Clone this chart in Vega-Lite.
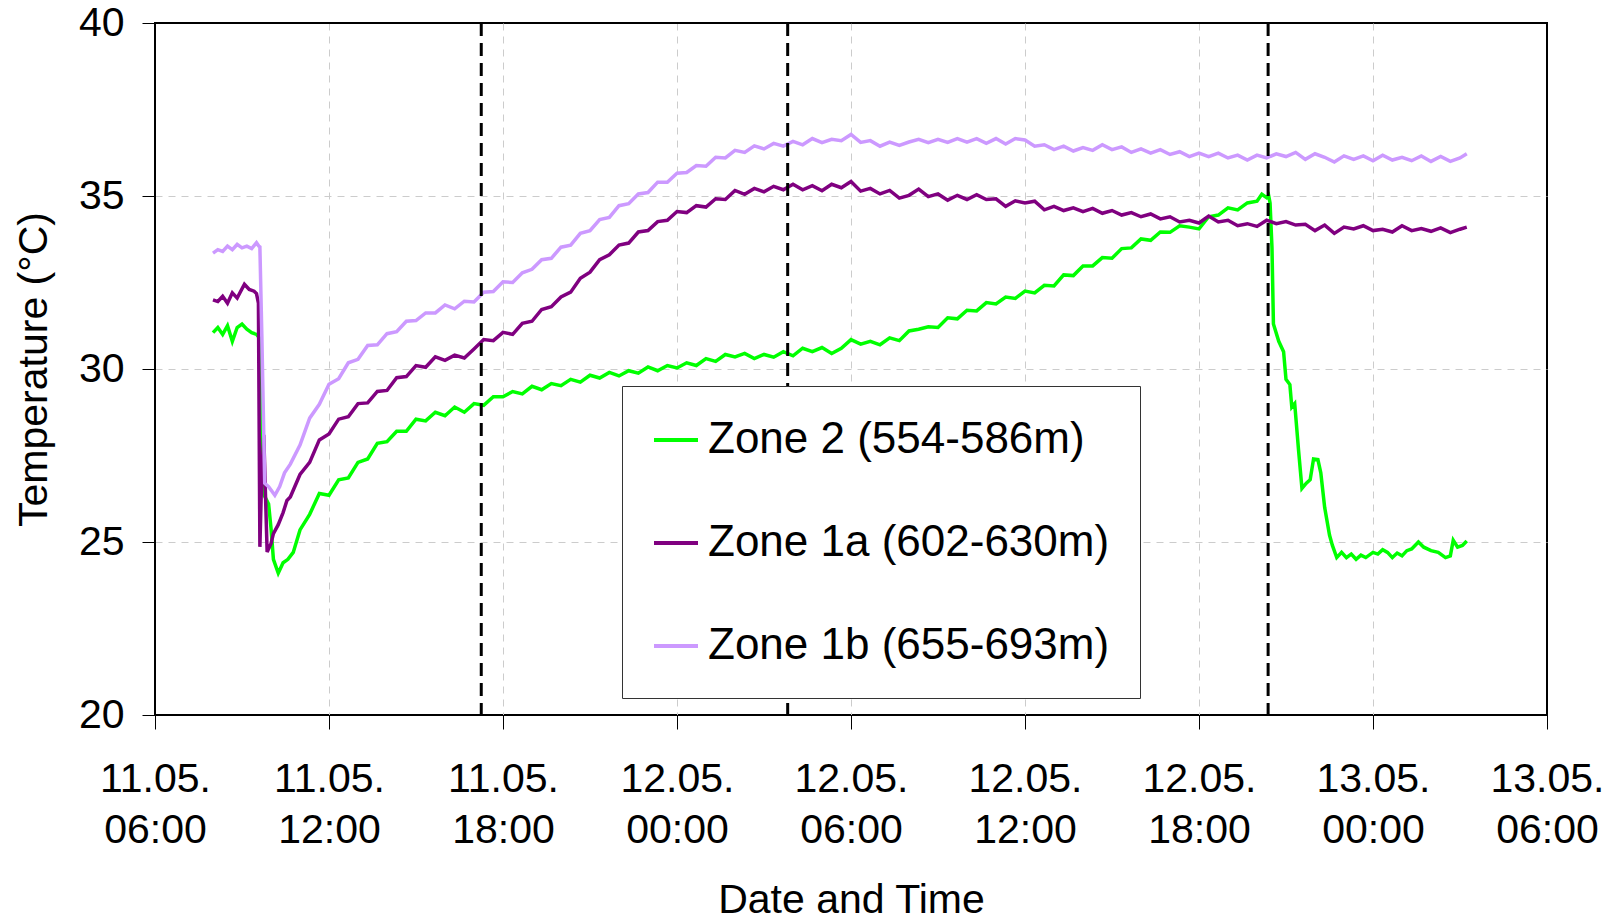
{
  "$schema": "https://vega.github.io/schema/vega-lite/v6.json",
  "width": 1392,
  "height": 692,
  "autosize": {"type": "none"},
  "padding": {"left": 155, "top": 23, "right": 73, "bottom": 203},
  "background": "white",
  "config": {
    "view": {"stroke": "black", "strokeWidth": 2},
    "axis": {"labelFont": "Liberation Sans", "titleFont": "Liberation Sans", "labelColor": "black", "titleColor": "black", "titleFontWeight": "normal"},
    "legend": {"labelFont": "Liberation Sans"}
  },
  "data": {"values": [
    {"z":"A","t":"2011-05-11T08:00Z","T":31.05},{"z":"A","t":"2011-05-11T08:10Z","T":31.2},{"z":"A","t":"2011-05-11T08:20Z","T":31.0},{"z":"A","t":"2011-05-11T08:30Z","T":31.25},{"z":"A","t":"2011-05-11T08:40Z","T":30.8},{"z":"A","t":"2011-05-11T08:50Z","T":31.2},{"z":"A","t":"2011-05-11T09:00Z","T":31.3},{"z":"A","t":"2011-05-11T09:10Z","T":31.15},{"z":"A","t":"2011-05-11T09:20Z","T":31.05},{"z":"A","t":"2011-05-11T09:30Z","T":31.0},{"z":"A","t":"2011-05-11T09:36Z","T":30.9},{"z":"A","t":"2011-05-11T09:44Z","T":26.4},{"z":"A","t":"2011-05-11T09:55Z","T":26.1},{"z":"A","t":"2011-05-11T10:00Z","T":25.4},{"z":"A","t":"2011-05-11T10:05Z","T":24.5},{"z":"A","t":"2011-05-11T10:15Z","T":24.1},{"z":"A","t":"2011-05-11T10:25Z","T":24.4},{"z":"A","t":"2011-05-11T10:35Z","T":24.5},{"z":"A","t":"2011-05-11T10:46Z","T":24.7},
    {"z":"A","t":"2011-05-11T11:00Z","T":25.35},{"z":"A","t":"2011-05-11T11:20Z","T":25.8},{"z":"A","t":"2011-05-11T11:40Z","T":26.4},{"z":"A","t":"2011-05-11T12:00Z","T":26.35},{"z":"A","t":"2011-05-11T12:20Z","T":26.8},{"z":"A","t":"2011-05-11T12:40Z","T":26.85},{"z":"A","t":"2011-05-11T13:00Z","T":27.3},{"z":"A","t":"2011-05-11T13:20Z","T":27.4},{"z":"A","t":"2011-05-11T13:40Z","T":27.85},{"z":"A","t":"2011-05-11T14:00Z","T":27.9},{"z":"A","t":"2011-05-11T14:20Z","T":28.2},{"z":"A","t":"2011-05-11T14:40Z","T":28.2},{"z":"A","t":"2011-05-11T15:00Z","T":28.55},{"z":"A","t":"2011-05-11T15:20Z","T":28.5},{"z":"A","t":"2011-05-11T15:40Z","T":28.75},{"z":"A","t":"2011-05-11T16:00Z","T":28.65},{"z":"A","t":"2011-05-11T16:20Z","T":28.9},{"z":"A","t":"2011-05-11T16:40Z","T":28.75},{"z":"A","t":"2011-05-11T17:00Z","T":29.0},{"z":"A","t":"2011-05-11T17:20Z","T":28.95},{"z":"A","t":"2011-05-11T17:40Z","T":29.2},{"z":"A","t":"2011-05-11T18:00Z","T":29.2},{"z":"A","t":"2011-05-11T18:20Z","T":29.35},{"z":"A","t":"2011-05-11T18:40Z","T":29.28},{"z":"A","t":"2011-05-11T19:00Z","T":29.5},{"z":"A","t":"2011-05-11T19:20Z","T":29.4},{"z":"A","t":"2011-05-11T19:40Z","T":29.58},{"z":"A","t":"2011-05-11T20:00Z","T":29.52},{"z":"A","t":"2011-05-11T20:20Z","T":29.7},{"z":"A","t":"2011-05-11T20:40Z","T":29.62},{"z":"A","t":"2011-05-11T21:00Z","T":29.82},{"z":"A","t":"2011-05-11T21:20Z","T":29.74},{"z":"A","t":"2011-05-11T21:40Z","T":29.9},{"z":"A","t":"2011-05-11T22:00Z","T":29.8},{"z":"A","t":"2011-05-11T22:20Z","T":29.95},{"z":"A","t":"2011-05-11T22:40Z","T":29.88},{"z":"A","t":"2011-05-11T23:00Z","T":30.06},{"z":"A","t":"2011-05-11T23:20Z","T":29.95},{"z":"A","t":"2011-05-11T23:40Z","T":30.1},
    {"z":"A","t":"2011-05-12T00:00Z","T":30.03},{"z":"A","t":"2011-05-12T00:20Z","T":30.18},{"z":"A","t":"2011-05-12T00:40Z","T":30.1},{"z":"A","t":"2011-05-12T01:00Z","T":30.3},{"z":"A","t":"2011-05-12T01:20Z","T":30.22},{"z":"A","t":"2011-05-12T01:40Z","T":30.42},{"z":"A","t":"2011-05-12T02:00Z","T":30.35},{"z":"A","t":"2011-05-12T02:20Z","T":30.45},{"z":"A","t":"2011-05-12T02:40Z","T":30.3},{"z":"A","t":"2011-05-12T03:00Z","T":30.42},{"z":"A","t":"2011-05-12T03:20Z","T":30.34},{"z":"A","t":"2011-05-12T03:40Z","T":30.5},{"z":"A","t":"2011-05-12T04:00Z","T":30.38},{"z":"A","t":"2011-05-12T04:20Z","T":30.6},{"z":"A","t":"2011-05-12T04:40Z","T":30.5},{"z":"A","t":"2011-05-12T05:00Z","T":30.62},{"z":"A","t":"2011-05-12T05:20Z","T":30.45},{"z":"A","t":"2011-05-12T05:40Z","T":30.6},{"z":"A","t":"2011-05-12T06:00Z","T":30.85},{"z":"A","t":"2011-05-12T06:20Z","T":30.72},{"z":"A","t":"2011-05-12T06:40Z","T":30.8},{"z":"A","t":"2011-05-12T07:00Z","T":30.7},{"z":"A","t":"2011-05-12T07:20Z","T":30.9},{"z":"A","t":"2011-05-12T07:40Z","T":30.82},{"z":"A","t":"2011-05-12T08:00Z","T":31.1},{"z":"A","t":"2011-05-12T08:20Z","T":31.15},{"z":"A","t":"2011-05-12T08:40Z","T":31.22},{"z":"A","t":"2011-05-12T09:00Z","T":31.2},{"z":"A","t":"2011-05-12T09:20Z","T":31.48},{"z":"A","t":"2011-05-12T09:40Z","T":31.45},{"z":"A","t":"2011-05-12T10:00Z","T":31.7},{"z":"A","t":"2011-05-12T10:20Z","T":31.68},{"z":"A","t":"2011-05-12T10:40Z","T":31.92},{"z":"A","t":"2011-05-12T11:00Z","T":31.88},{"z":"A","t":"2011-05-12T11:20Z","T":32.08},{"z":"A","t":"2011-05-12T11:40Z","T":32.04},{"z":"A","t":"2011-05-12T12:00Z","T":32.25},{"z":"A","t":"2011-05-12T12:20Z","T":32.2},{"z":"A","t":"2011-05-12T12:40Z","T":32.42},{"z":"A","t":"2011-05-12T13:00Z","T":32.4},{"z":"A","t":"2011-05-12T13:20Z","T":32.72},{"z":"A","t":"2011-05-12T13:40Z","T":32.7},{"z":"A","t":"2011-05-12T14:00Z","T":32.98},{"z":"A","t":"2011-05-12T14:20Z","T":32.98},{"z":"A","t":"2011-05-12T14:40Z","T":33.22},{"z":"A","t":"2011-05-12T15:00Z","T":33.2},{"z":"A","t":"2011-05-12T15:20Z","T":33.48},{"z":"A","t":"2011-05-12T15:40Z","T":33.5},{"z":"A","t":"2011-05-12T16:00Z","T":33.76},{"z":"A","t":"2011-05-12T16:20Z","T":33.72},{"z":"A","t":"2011-05-12T16:40Z","T":33.96},{"z":"A","t":"2011-05-12T17:00Z","T":33.95},{"z":"A","t":"2011-05-12T17:20Z","T":34.14},{"z":"A","t":"2011-05-12T17:40Z","T":34.1},{"z":"A","t":"2011-05-12T18:00Z","T":34.05},{"z":"A","t":"2011-05-12T18:20Z","T":34.4},{"z":"A","t":"2011-05-12T18:40Z","T":34.45},{"z":"A","t":"2011-05-12T19:00Z","T":34.66},{"z":"A","t":"2011-05-12T19:20Z","T":34.6},{"z":"A","t":"2011-05-12T19:40Z","T":34.8},{"z":"A","t":"2011-05-12T20:00Z","T":34.85},{"z":"A","t":"2011-05-12T20:10Z","T":35.05},{"z":"A","t":"2011-05-12T20:20Z","T":34.95},{"z":"A","t":"2011-05-12T20:24Z","T":35.02},{"z":"A","t":"2011-05-12T20:27Z","T":34.8},{"z":"A","t":"2011-05-12T20:31Z","T":33.5},{"z":"A","t":"2011-05-12T20:34Z","T":31.3},{"z":"A","t":"2011-05-12T20:45Z","T":30.8},{"z":"A","t":"2011-05-12T20:55Z","T":30.5},{"z":"A","t":"2011-05-12T21:00Z","T":29.7},{"z":"A","t":"2011-05-12T21:08Z","T":29.55},{"z":"A","t":"2011-05-12T21:12Z","T":28.9},{"z":"A","t":"2011-05-12T21:18Z","T":29.0},{"z":"A","t":"2011-05-12T21:26Z","T":27.65},{"z":"A","t":"2011-05-12T21:33Z","T":26.55},{"z":"A","t":"2011-05-12T21:42Z","T":26.7},{"z":"A","t":"2011-05-12T21:50Z","T":26.8},{"z":"A","t":"2011-05-12T21:57Z","T":27.4},{"z":"A","t":"2011-05-12T22:06Z","T":27.38},{"z":"A","t":"2011-05-12T22:12Z","T":27.0},{"z":"A","t":"2011-05-12T22:20Z","T":26.0},{"z":"A","t":"2011-05-12T22:30Z","T":25.2},{"z":"A","t":"2011-05-12T22:36Z","T":24.9},{"z":"A","t":"2011-05-12T22:45Z","T":24.55},{"z":"A","t":"2011-05-12T22:55Z","T":24.7},{"z":"A","t":"2011-05-12T23:05Z","T":24.55},{"z":"A","t":"2011-05-12T23:15Z","T":24.65},{"z":"A","t":"2011-05-12T23:25Z","T":24.5},{"z":"A","t":"2011-05-12T23:35Z","T":24.62},{"z":"A","t":"2011-05-12T23:45Z","T":24.55},
    {"z":"A","t":"2011-05-13T00:00Z","T":24.7},{"z":"A","t":"2011-05-13T00:10Z","T":24.65},{"z":"A","t":"2011-05-13T00:20Z","T":24.78},{"z":"A","t":"2011-05-13T00:30Z","T":24.7},{"z":"A","t":"2011-05-13T00:40Z","T":24.55},{"z":"A","t":"2011-05-13T00:50Z","T":24.68},{"z":"A","t":"2011-05-13T01:00Z","T":24.6},{"z":"A","t":"2011-05-13T01:10Z","T":24.75},{"z":"A","t":"2011-05-13T01:20Z","T":24.8},{"z":"A","t":"2011-05-13T01:34Z","T":25.0},{"z":"A","t":"2011-05-13T01:45Z","T":24.85},{"z":"A","t":"2011-05-13T02:00Z","T":24.75},{"z":"A","t":"2011-05-13T02:15Z","T":24.7},{"z":"A","t":"2011-05-13T02:30Z","T":24.55},{"z":"A","t":"2011-05-13T02:40Z","T":24.6},{"z":"A","t":"2011-05-13T02:46Z","T":25.05},{"z":"A","t":"2011-05-13T02:55Z","T":24.85},{"z":"A","t":"2011-05-13T03:05Z","T":24.9},{"z":"A","t":"2011-05-13T03:14Z","T":25.03},
    {"z":"B","t":"2011-05-11T08:00Z","T":32.0},{"z":"B","t":"2011-05-11T08:10Z","T":31.95},{"z":"B","t":"2011-05-11T08:20Z","T":32.1},{"z":"B","t":"2011-05-11T08:30Z","T":31.9},{"z":"B","t":"2011-05-11T08:40Z","T":32.2},{"z":"B","t":"2011-05-11T08:50Z","T":32.05},{"z":"B","t":"2011-05-11T09:05Z","T":32.45},{"z":"B","t":"2011-05-11T09:15Z","T":32.3},{"z":"B","t":"2011-05-11T09:25Z","T":32.25},{"z":"B","t":"2011-05-11T09:30Z","T":32.18},{"z":"B","t":"2011-05-11T09:34Z","T":31.9},{"z":"B","t":"2011-05-11T09:37Z","T":24.86},{"z":"B","t":"2011-05-11T09:40Z","T":26.5},{"z":"B","t":"2011-05-11T09:45Z","T":28.1},{"z":"B","t":"2011-05-11T09:52Z","T":24.71},{"z":"B","t":"2011-05-11T10:00Z","T":24.95},{"z":"B","t":"2011-05-11T10:05Z","T":25.24},{"z":"B","t":"2011-05-11T10:15Z","T":25.5},{"z":"B","t":"2011-05-11T10:25Z","T":25.85},{"z":"B","t":"2011-05-11T10:33Z","T":26.2},
    {"z":"B","t":"2011-05-11T10:40Z","T":26.3},{"z":"B","t":"2011-05-11T11:00Z","T":26.95},{"z":"B","t":"2011-05-11T11:20Z","T":27.3},{"z":"B","t":"2011-05-11T11:40Z","T":27.95},{"z":"B","t":"2011-05-11T12:00Z","T":28.12},{"z":"B","t":"2011-05-11T12:20Z","T":28.55},{"z":"B","t":"2011-05-11T12:40Z","T":28.62},{"z":"B","t":"2011-05-11T13:00Z","T":29.0},{"z":"B","t":"2011-05-11T13:20Z","T":29.02},{"z":"B","t":"2011-05-11T13:40Z","T":29.35},{"z":"B","t":"2011-05-11T14:00Z","T":29.38},{"z":"B","t":"2011-05-11T14:20Z","T":29.75},{"z":"B","t":"2011-05-11T14:40Z","T":29.78},{"z":"B","t":"2011-05-11T15:00Z","T":30.1},{"z":"B","t":"2011-05-11T15:20Z","T":30.05},{"z":"B","t":"2011-05-11T15:40Z","T":30.35},{"z":"B","t":"2011-05-11T16:00Z","T":30.25},{"z":"B","t":"2011-05-11T16:20Z","T":30.4},{"z":"B","t":"2011-05-11T16:40Z","T":30.32},{"z":"B","t":"2011-05-11T17:00Z","T":30.58},{"z":"B","t":"2011-05-11T17:20Z","T":30.85},{"z":"B","t":"2011-05-11T17:40Z","T":30.82},{"z":"B","t":"2011-05-11T18:00Z","T":31.06},{"z":"B","t":"2011-05-11T18:20Z","T":31.0},{"z":"B","t":"2011-05-11T18:40Z","T":31.32},{"z":"B","t":"2011-05-11T19:00Z","T":31.38},{"z":"B","t":"2011-05-11T19:20Z","T":31.72},{"z":"B","t":"2011-05-11T19:40Z","T":31.8},{"z":"B","t":"2011-05-11T20:00Z","T":32.08},{"z":"B","t":"2011-05-11T20:20Z","T":32.22},{"z":"B","t":"2011-05-11T20:40Z","T":32.62},{"z":"B","t":"2011-05-11T21:00Z","T":32.8},{"z":"B","t":"2011-05-11T21:20Z","T":33.16},{"z":"B","t":"2011-05-11T21:40Z","T":33.3},{"z":"B","t":"2011-05-11T22:00Z","T":33.58},{"z":"B","t":"2011-05-11T22:20Z","T":33.64},{"z":"B","t":"2011-05-11T22:40Z","T":33.96},{"z":"B","t":"2011-05-11T23:00Z","T":34.0},{"z":"B","t":"2011-05-11T23:20Z","T":34.26},{"z":"B","t":"2011-05-11T23:40Z","T":34.3},
    {"z":"B","t":"2011-05-12T00:00Z","T":34.55},{"z":"B","t":"2011-05-12T00:20Z","T":34.52},{"z":"B","t":"2011-05-12T00:40Z","T":34.72},{"z":"B","t":"2011-05-12T01:00Z","T":34.68},{"z":"B","t":"2011-05-12T01:20Z","T":34.92},{"z":"B","t":"2011-05-12T01:40Z","T":34.9},{"z":"B","t":"2011-05-12T02:00Z","T":35.16},{"z":"B","t":"2011-05-12T02:20Z","T":35.05},{"z":"B","t":"2011-05-12T02:40Z","T":35.22},{"z":"B","t":"2011-05-12T03:00Z","T":35.12},{"z":"B","t":"2011-05-12T03:20Z","T":35.28},{"z":"B","t":"2011-05-12T03:40Z","T":35.18},{"z":"B","t":"2011-05-12T04:00Z","T":35.34},{"z":"B","t":"2011-05-12T04:20Z","T":35.18},{"z":"B","t":"2011-05-12T04:40Z","T":35.3},{"z":"B","t":"2011-05-12T05:00Z","T":35.15},{"z":"B","t":"2011-05-12T05:20Z","T":35.34},{"z":"B","t":"2011-05-12T05:40Z","T":35.24},{"z":"B","t":"2011-05-12T06:00Z","T":35.42},{"z":"B","t":"2011-05-12T06:20Z","T":35.14},{"z":"B","t":"2011-05-12T06:40Z","T":35.22},{"z":"B","t":"2011-05-12T07:00Z","T":35.06},{"z":"B","t":"2011-05-12T07:20Z","T":35.16},{"z":"B","t":"2011-05-12T07:40Z","T":34.94},{"z":"B","t":"2011-05-12T08:00Z","T":35.02},{"z":"B","t":"2011-05-12T08:20Z","T":35.2},{"z":"B","t":"2011-05-12T08:40Z","T":34.98},{"z":"B","t":"2011-05-12T09:00Z","T":35.06},{"z":"B","t":"2011-05-12T09:20Z","T":34.88},{"z":"B","t":"2011-05-12T09:40Z","T":35.02},{"z":"B","t":"2011-05-12T10:00Z","T":34.9},{"z":"B","t":"2011-05-12T10:20Z","T":35.04},{"z":"B","t":"2011-05-12T10:40Z","T":34.9},{"z":"B","t":"2011-05-12T11:00Z","T":34.92},{"z":"B","t":"2011-05-12T11:20Z","T":34.7},{"z":"B","t":"2011-05-12T11:40Z","T":34.86},{"z":"B","t":"2011-05-12T12:00Z","T":34.8},{"z":"B","t":"2011-05-12T12:20Z","T":34.85},{"z":"B","t":"2011-05-12T12:40Z","T":34.6},{"z":"B","t":"2011-05-12T13:00Z","T":34.7},{"z":"B","t":"2011-05-12T13:20Z","T":34.58},{"z":"B","t":"2011-05-12T13:40Z","T":34.66},{"z":"B","t":"2011-05-12T14:00Z","T":34.55},{"z":"B","t":"2011-05-12T14:20Z","T":34.64},{"z":"B","t":"2011-05-12T14:40Z","T":34.5},{"z":"B","t":"2011-05-12T15:00Z","T":34.58},{"z":"B","t":"2011-05-12T15:20Z","T":34.45},{"z":"B","t":"2011-05-12T15:40Z","T":34.52},{"z":"B","t":"2011-05-12T16:00Z","T":34.4},{"z":"B","t":"2011-05-12T16:20Z","T":34.48},{"z":"B","t":"2011-05-12T16:40Z","T":34.34},{"z":"B","t":"2011-05-12T17:00Z","T":34.4},{"z":"B","t":"2011-05-12T17:20Z","T":34.25},{"z":"B","t":"2011-05-12T17:40Z","T":34.3},{"z":"B","t":"2011-05-12T18:00Z","T":34.22},{"z":"B","t":"2011-05-12T18:20Z","T":34.42},{"z":"B","t":"2011-05-12T18:40Z","T":34.25},{"z":"B","t":"2011-05-12T19:00Z","T":34.3},{"z":"B","t":"2011-05-12T19:20Z","T":34.14},{"z":"B","t":"2011-05-12T19:40Z","T":34.2},{"z":"B","t":"2011-05-12T20:00Z","T":34.12},{"z":"B","t":"2011-05-12T20:20Z","T":34.3},{"z":"B","t":"2011-05-12T20:40Z","T":34.2},{"z":"B","t":"2011-05-12T21:00Z","T":34.26},{"z":"B","t":"2011-05-12T21:20Z","T":34.16},{"z":"B","t":"2011-05-12T21:40Z","T":34.18},{"z":"B","t":"2011-05-12T22:00Z","T":34.0},{"z":"B","t":"2011-05-12T22:20Z","T":34.16},{"z":"B","t":"2011-05-12T22:40Z","T":33.92},{"z":"B","t":"2011-05-12T23:00Z","T":34.1},{"z":"B","t":"2011-05-12T23:20Z","T":34.05},{"z":"B","t":"2011-05-12T23:40Z","T":34.14},
    {"z":"B","t":"2011-05-13T00:00Z","T":34.0},{"z":"B","t":"2011-05-13T00:20Z","T":34.04},{"z":"B","t":"2011-05-13T00:40Z","T":33.96},{"z":"B","t":"2011-05-13T01:00Z","T":34.14},{"z":"B","t":"2011-05-13T01:20Z","T":34.0},{"z":"B","t":"2011-05-13T01:40Z","T":34.06},{"z":"B","t":"2011-05-13T02:00Z","T":33.98},{"z":"B","t":"2011-05-13T02:20Z","T":34.08},{"z":"B","t":"2011-05-13T02:40Z","T":33.94},{"z":"B","t":"2011-05-13T03:00Z","T":34.04},{"z":"B","t":"2011-05-13T03:14Z","T":34.1},
    {"z":"C","t":"2011-05-11T08:00Z","T":33.35},{"z":"C","t":"2011-05-11T08:10Z","T":33.45},{"z":"C","t":"2011-05-11T08:20Z","T":33.4},{"z":"C","t":"2011-05-11T08:30Z","T":33.55},{"z":"C","t":"2011-05-11T08:40Z","T":33.45},{"z":"C","t":"2011-05-11T08:50Z","T":33.6},{"z":"C","t":"2011-05-11T09:00Z","T":33.5},{"z":"C","t":"2011-05-11T09:10Z","T":33.55},{"z":"C","t":"2011-05-11T09:20Z","T":33.48},{"z":"C","t":"2011-05-11T09:30Z","T":33.65},{"z":"C","t":"2011-05-11T09:35Z","T":33.55},{"z":"C","t":"2011-05-11T09:37Z","T":33.53},{"z":"C","t":"2011-05-11T09:41Z","T":31.0},{"z":"C","t":"2011-05-11T09:47Z","T":26.7},{"z":"C","t":"2011-05-11T09:55Z","T":26.6},{"z":"C","t":"2011-05-11T10:08Z","T":26.35},{"z":"C","t":"2011-05-11T10:18Z","T":26.6},{"z":"C","t":"2011-05-11T10:28Z","T":27.0},
    {"z":"C","t":"2011-05-11T10:40Z","T":27.25},{"z":"C","t":"2011-05-11T11:00Z","T":27.8},{"z":"C","t":"2011-05-11T11:20Z","T":28.58},{"z":"C","t":"2011-05-11T11:40Z","T":28.98},{"z":"C","t":"2011-05-11T12:00Z","T":29.56},{"z":"C","t":"2011-05-11T12:20Z","T":29.72},{"z":"C","t":"2011-05-11T12:40Z","T":30.18},{"z":"C","t":"2011-05-11T13:00Z","T":30.28},{"z":"C","t":"2011-05-11T13:20Z","T":30.68},{"z":"C","t":"2011-05-11T13:40Z","T":30.7},{"z":"C","t":"2011-05-11T14:00Z","T":31.02},{"z":"C","t":"2011-05-11T14:20Z","T":31.08},{"z":"C","t":"2011-05-11T14:40Z","T":31.38},{"z":"C","t":"2011-05-11T15:00Z","T":31.4},{"z":"C","t":"2011-05-11T15:20Z","T":31.62},{"z":"C","t":"2011-05-11T15:40Z","T":31.62},{"z":"C","t":"2011-05-11T16:00Z","T":31.85},{"z":"C","t":"2011-05-11T16:20Z","T":31.74},{"z":"C","t":"2011-05-11T16:40Z","T":31.96},{"z":"C","t":"2011-05-11T17:00Z","T":31.94},{"z":"C","t":"2011-05-11T17:20Z","T":32.22},{"z":"C","t":"2011-05-11T17:40Z","T":32.24},{"z":"C","t":"2011-05-11T18:00Z","T":32.52},{"z":"C","t":"2011-05-11T18:20Z","T":32.5},{"z":"C","t":"2011-05-11T18:40Z","T":32.78},{"z":"C","t":"2011-05-11T19:00Z","T":32.88},{"z":"C","t":"2011-05-11T19:20Z","T":33.16},{"z":"C","t":"2011-05-11T19:40Z","T":33.2},{"z":"C","t":"2011-05-11T20:00Z","T":33.52},{"z":"C","t":"2011-05-11T20:20Z","T":33.58},{"z":"C","t":"2011-05-11T20:40Z","T":33.92},{"z":"C","t":"2011-05-11T21:00Z","T":34.0},{"z":"C","t":"2011-05-11T21:20Z","T":34.32},{"z":"C","t":"2011-05-11T21:40Z","T":34.38},{"z":"C","t":"2011-05-11T22:00Z","T":34.72},{"z":"C","t":"2011-05-11T22:20Z","T":34.78},{"z":"C","t":"2011-05-11T22:40Z","T":35.06},{"z":"C","t":"2011-05-11T23:00Z","T":35.1},{"z":"C","t":"2011-05-11T23:20Z","T":35.4},{"z":"C","t":"2011-05-11T23:40Z","T":35.4},
    {"z":"C","t":"2011-05-12T00:00Z","T":35.66},{"z":"C","t":"2011-05-12T00:20Z","T":35.68},{"z":"C","t":"2011-05-12T00:40Z","T":35.88},{"z":"C","t":"2011-05-12T01:00Z","T":35.86},{"z":"C","t":"2011-05-12T01:20Z","T":36.12},{"z":"C","t":"2011-05-12T01:40Z","T":36.1},{"z":"C","t":"2011-05-12T02:00Z","T":36.32},{"z":"C","t":"2011-05-12T02:20Z","T":36.26},{"z":"C","t":"2011-05-12T02:40Z","T":36.45},{"z":"C","t":"2011-05-12T03:00Z","T":36.36},{"z":"C","t":"2011-05-12T03:20Z","T":36.52},{"z":"C","t":"2011-05-12T03:40Z","T":36.44},{"z":"C","t":"2011-05-12T04:00Z","T":36.58},{"z":"C","t":"2011-05-12T04:20Z","T":36.48},{"z":"C","t":"2011-05-12T04:40Z","T":36.66},{"z":"C","t":"2011-05-12T05:00Z","T":36.54},{"z":"C","t":"2011-05-12T05:20Z","T":36.64},{"z":"C","t":"2011-05-12T05:40Z","T":36.6},{"z":"C","t":"2011-05-12T06:00Z","T":36.78},{"z":"C","t":"2011-05-12T06:20Z","T":36.55},{"z":"C","t":"2011-05-12T06:40Z","T":36.6},{"z":"C","t":"2011-05-12T07:00Z","T":36.44},{"z":"C","t":"2011-05-12T07:20Z","T":36.56},{"z":"C","t":"2011-05-12T07:40Z","T":36.46},{"z":"C","t":"2011-05-12T08:00Z","T":36.56},{"z":"C","t":"2011-05-12T08:20Z","T":36.64},{"z":"C","t":"2011-05-12T08:40Z","T":36.54},{"z":"C","t":"2011-05-12T09:00Z","T":36.64},{"z":"C","t":"2011-05-12T09:20Z","T":36.55},{"z":"C","t":"2011-05-12T09:40Z","T":36.66},{"z":"C","t":"2011-05-12T10:00Z","T":36.56},{"z":"C","t":"2011-05-12T10:20Z","T":36.66},{"z":"C","t":"2011-05-12T10:40Z","T":36.52},{"z":"C","t":"2011-05-12T11:00Z","T":36.66},{"z":"C","t":"2011-05-12T11:20Z","T":36.5},{"z":"C","t":"2011-05-12T11:40Z","T":36.66},{"z":"C","t":"2011-05-12T12:00Z","T":36.62},{"z":"C","t":"2011-05-12T12:20Z","T":36.44},{"z":"C","t":"2011-05-12T12:40Z","T":36.48},{"z":"C","t":"2011-05-12T13:00Z","T":36.34},{"z":"C","t":"2011-05-12T13:20Z","T":36.44},{"z":"C","t":"2011-05-12T13:40Z","T":36.3},{"z":"C","t":"2011-05-12T14:00Z","T":36.4},{"z":"C","t":"2011-05-12T14:20Z","T":36.32},{"z":"C","t":"2011-05-12T14:40Z","T":36.48},{"z":"C","t":"2011-05-12T15:00Z","T":36.34},{"z":"C","t":"2011-05-12T15:20Z","T":36.42},{"z":"C","t":"2011-05-12T15:40Z","T":36.26},{"z":"C","t":"2011-05-12T16:00Z","T":36.36},{"z":"C","t":"2011-05-12T16:20Z","T":36.24},{"z":"C","t":"2011-05-12T16:40Z","T":36.34},{"z":"C","t":"2011-05-12T17:00Z","T":36.2},{"z":"C","t":"2011-05-12T17:20Z","T":36.28},{"z":"C","t":"2011-05-12T17:40Z","T":36.14},{"z":"C","t":"2011-05-12T18:00Z","T":36.24},{"z":"C","t":"2011-05-12T18:20Z","T":36.14},{"z":"C","t":"2011-05-12T18:40Z","T":36.24},{"z":"C","t":"2011-05-12T19:00Z","T":36.1},{"z":"C","t":"2011-05-12T19:20Z","T":36.18},{"z":"C","t":"2011-05-12T19:40Z","T":36.04},{"z":"C","t":"2011-05-12T20:00Z","T":36.18},{"z":"C","t":"2011-05-12T20:20Z","T":36.1},{"z":"C","t":"2011-05-12T20:40Z","T":36.22},{"z":"C","t":"2011-05-12T21:00Z","T":36.14},{"z":"C","t":"2011-05-12T21:20Z","T":36.26},{"z":"C","t":"2011-05-12T21:40Z","T":36.06},{"z":"C","t":"2011-05-12T22:00Z","T":36.22},{"z":"C","t":"2011-05-12T22:20Z","T":36.12},{"z":"C","t":"2011-05-12T22:40Z","T":35.98},{"z":"C","t":"2011-05-12T23:00Z","T":36.16},{"z":"C","t":"2011-05-12T23:20Z","T":36.06},{"z":"C","t":"2011-05-12T23:40Z","T":36.16},
    {"z":"C","t":"2011-05-13T00:00Z","T":36.02},{"z":"C","t":"2011-05-13T00:20Z","T":36.18},{"z":"C","t":"2011-05-13T00:40Z","T":36.04},{"z":"C","t":"2011-05-13T01:00Z","T":36.12},{"z":"C","t":"2011-05-13T01:20Z","T":36.02},{"z":"C","t":"2011-05-13T01:40Z","T":36.16},{"z":"C","t":"2011-05-13T02:00Z","T":36.0},{"z":"C","t":"2011-05-13T02:20Z","T":36.14},{"z":"C","t":"2011-05-13T02:40Z","T":36.0},{"z":"C","t":"2011-05-13T03:00Z","T":36.1},{"z":"C","t":"2011-05-13T03:14Z","T":36.22}
  ]},
  "layer": [
    {
      "mark": {"type": "line", "strokeWidth": 3.5},
      "encoding": {
        "x": {"field": "t", "type": "temporal",
          "scale": {"type": "utc", "domain": [1305093600000, 1305266400000]},
          "axis": {"title": "Date and Time", "titleFontSize": 41, "titlePadding": 30,
            "values": [1305093600000, 1305115200000, 1305136800000, 1305158400000, 1305180000000, 1305201600000, 1305223200000, 1305244800000, 1305266400000],
            "labelFontSize": 41, "labelLineHeight": 51, "labelPadding": 30,
            "labelExpr": "[utcFormat(datum.value, '%d.%m.'), utcFormat(datum.value, '%H:%M')]",
            "labelFlush": false, "labelOverlap": false,
            "tickSize": 14, "tickColor": "black", "domainColor": "black",
            "grid": true, "gridDash": [7, 6],
            "gridColor": {"condition": {"test": "datum.value <= 1305093600000 || datum.value >= 1305266400000", "value": "black"}, "value": "#cccccc"}}},
        "y": {"field": "T", "type": "quantitative",
          "scale": {"domain": [20, 40], "nice": false, "zero": false},
          "axis": {"title": "Temperature (°C)", "titleFontSize": 41, "titlePadding": 23, "values": [20, 25, 30, 35, 40],
            "labelFontSize": 41, "labelPadding": 18, "tickSize": 13, "tickColor": "black",
            "domainColor": "black", "grid": true, "gridDash": [7, 6],
            "gridColor": {"condition": {"test": "datum.value <= 20 || datum.value >= 40", "value": "black"}, "value": "#cccccc"}}},
        "color": {"field": "z", "type": "nominal",
          "scale": {"domain": ["A", "B", "C"], "range": ["#00ff00", "#800080", "#cc99ff"]},
          "legend": {"title": null, "orient": "none", "legendX": 467, "legendY": 363, "padding": 30,
            "strokeColor": "#333333", "fillColor": "white",
            "labelExpr": "datum.value == 'A' ? 'Zone 2 (554-586m)' : datum.value == 'B' ? 'Zone 1a (602-630m)' : 'Zone 1b (655-693m)'",
            "symbolType": "stroke", "symbolSize": 1936, "symbolStrokeWidth": 4, "labelOffset": 8,
            "labelFontSize": 44, "rowPadding": 57, "labelLimit": 600}}
      }
    },
    {
      "data": {"values": [{"t":"2011-05-11T17:15Z"},{"t":"2011-05-12T03:49Z"},{"t":"2011-05-12T20:23Z"}]},
      "mark": {"type": "rule", "color": "black", "strokeWidth": 3, "strokeDash": [13, 7]},
      "encoding": {
        "x": {"field": "t", "type": "temporal"}
      }
    }
  ]
}
